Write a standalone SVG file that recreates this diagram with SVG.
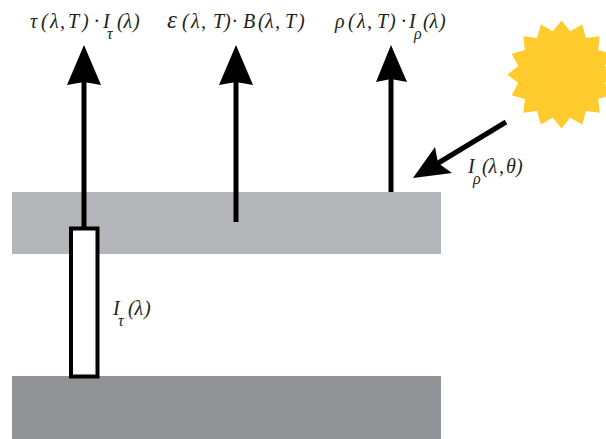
<svg xmlns="http://www.w3.org/2000/svg" width="606" height="439" viewBox="0 0 606 439">
<style>
text{font-family:"Liberation Serif","Times New Roman",serif;font-style:italic;font-size:20px;fill:#231f20}
.sub{font-size:16px}
.cap{font-size:25px}
.ln{stroke:#000;stroke-width:5;fill:none}
.hd{fill:#000}
</style>
<g id="upper-layer"><rect x="12" y="192" width="429" height="62" fill="#b5b6ba"/></g>
<g id="lower-layer"><rect x="12" y="376" width="429" height="63" fill="#929397"/></g>
<g id="sun"><polygon fill="#ffcb2d" points="561.5,20.500 570.100,31.300 582.200,24.600 586,37.900 599.700,36.300 598.100,50.100 611.400,53.800 604.700,65.900 615.500,74.500 604.700,83.100 611.400,95.200 598.100,98.900 599.700,112.700 586,111.100 582.200,124.400 570.100,117.700 561.500,128.500 552.900,117.700 540.800,124.400 537,111.100 523.300,112.700 524.900,98.900 511.600,95.200 518.300,83.100 507.500,74.500 518.300,65.900 511.600,53.800 524.900,50.100 523.300,36.300 537,37.900 540.800,24.600 552.900,31.300"/></g>
<g id="connectors">
<line class="ln" x1="84" y1="228" x2="84" y2="80"/><polygon class="hd" points="84,45 101,85 84,82 67,85"/>
<line class="ln" x1="236" y1="222" x2="236" y2="80"/><polygon class="hd" points="236,45 253,85 236,82 219,85"/>
<line class="ln" x1="391" y1="192" x2="391" y2="78"/><polygon class="hd" points="391,45 407,82 391,79 376,82"/>
<line class="ln" x1="506" y1="122" x2="435" y2="165"/><polygon class="hd" points="413,178 435,147 438,163 452,173"/>
</g>
<g id="transmitted-beam"><rect x="71" y="228.500" width="26.500" height="148" fill="#fff" stroke="#000" stroke-width="4"/></g>
<g id="label-transmitted"><text x="30 36 41 46 50 60 62 68 79 82 88 94" y="28">τ ( λ, T ) · <tspan x="103">I</tspan><tspan class="sub" x="107" y="39">τ</tspan><tspan x="117 123.500 133" y="28">(λ)</tspan></text></g>
<g id="label-emitted"><text class="cap" x="167" y="28">ε</text><text x="182 188 191 201 205 213 223 224 230 232 238 243" y="28">( λ, T ) · B</text><text x="258 263 265 275 279 285 296 298" y="28">( λ, T )</text></g>
<g id="label-reflected"><text x="335 344 348 354 357 367 372 377 387 389 396 401" y="28">ρ ( λ, T ) · <tspan x="409">I</tspan><tspan class="sub" x="414" y="39">ρ</tspan><tspan x="423 429.500 439" y="28">(λ)</tspan></text></g>
<g id="label-incident"><text x="468" y="173">I<tspan class="sub" x="473" y="184">ρ</tspan><tspan x="482 488.500 499 504 506 516" y="173">(λ, θ)</tspan></text></g>
<g id="label-beam"><text x="113" y="315">I<tspan class="sub" x="118" y="326">τ</tspan><tspan x="128 134.500 144" y="315">(λ)</tspan></text></g>
</svg>
